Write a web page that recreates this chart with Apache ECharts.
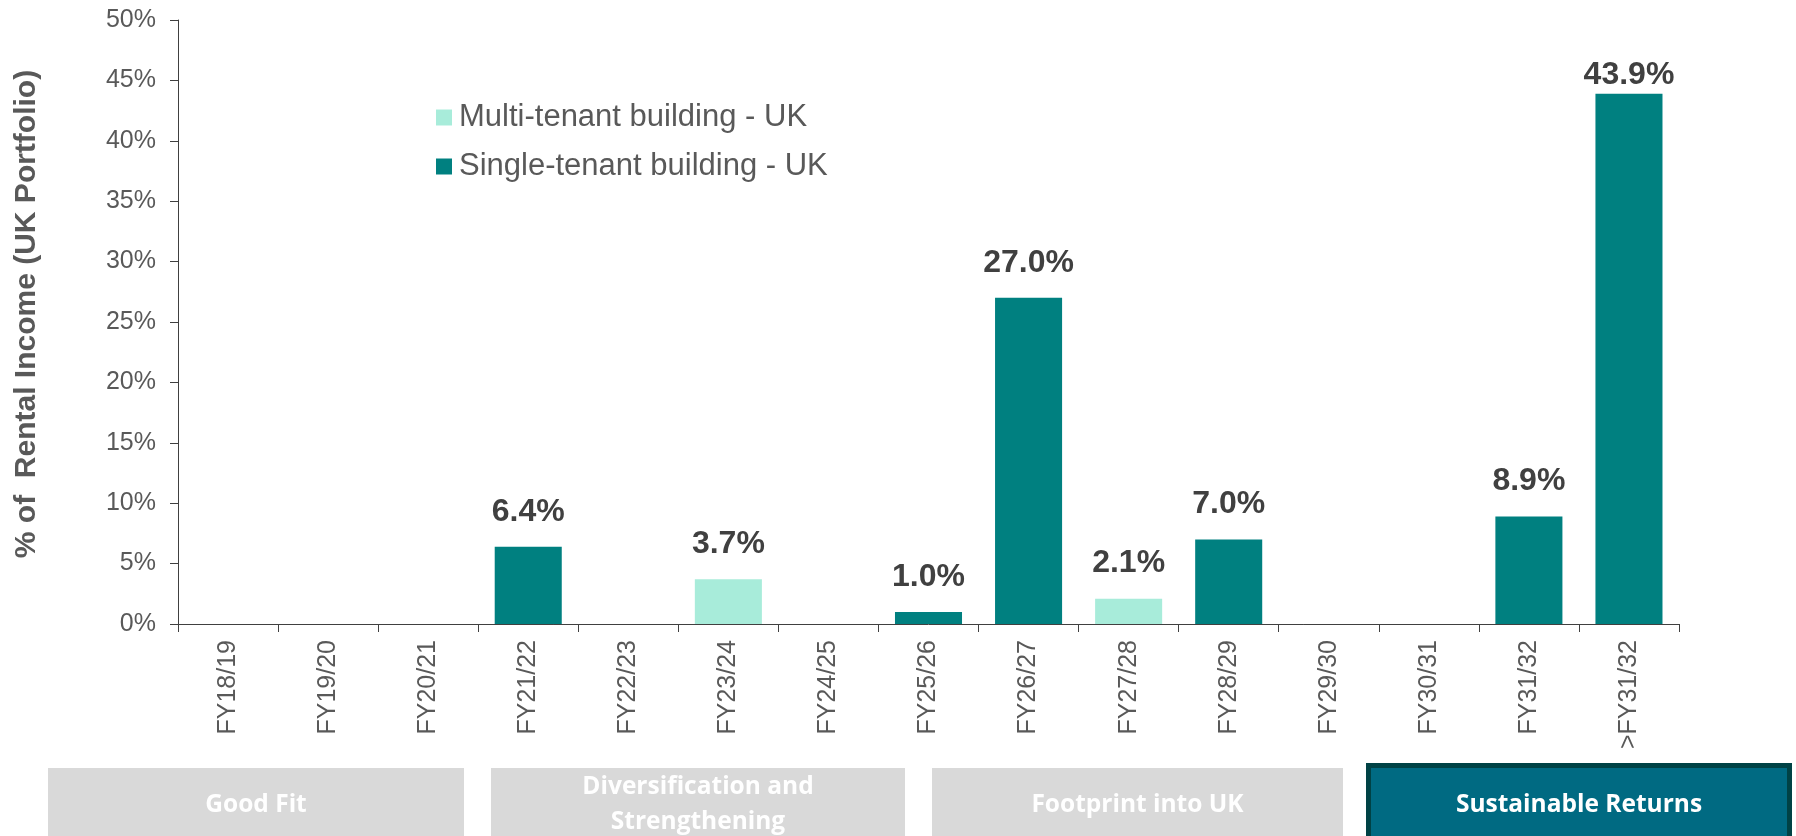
<!DOCTYPE html>
<html>
<head>
<meta charset="utf-8">
<script src="https://cdn.jsdelivr.net/npm/echarts@6/dist/echarts.min.js"></script>
<style>
  html, body { margin: 0; padding: 0; background: #fff; }
  #chart { width: 1796px; height: 836px; }
</style>
</head>
<body>
<div id="chart"></div>
<script>
const categories = ['FY18/19', 'FY19/20', 'FY20/21', 'FY21/22', 'FY22/23', 'FY23/24', 'FY24/25',
  'FY25/26', 'FY26/27', 'FY27/28', 'FY28/29', 'FY29/30', 'FY30/31', 'FY31/32', '>FY31/32'];
const multiTenant = [null, null, null, null, null, 3.7, null, null, null, 2.1, null, null, null, null, null];
const singleTenant = [null, null, null, 6.4, null, null, null, 1.0, 27.0, null, 7.0, null, null, 8.9, 43.9];
const yTicks = { min: 0, max: 50, interval: 5 };
const phases = ['Good Fit', 'Diversification and\nStrengthening', 'Footprint into UK', 'Sustainable Returns'];

const FONT = '"Liberation Sans", Arial, sans-serif';
const GREY = '#595959';
const BOX_FONT = 'bold 24.5px "Open Sans", sans-serif';

const labelOpt = {
  show: true,
  position: 'top',
  distance: 19,
  fontFamily: FONT,
  fontSize: 32,
  fontWeight: 'bold',
  color: '#404040',
  formatter: p => p.value.toFixed(1) + '%'
};

// the tallest bar's label sits close to the bar in the original
const lastIdx = categories.length - 1;
const singleData = singleTenant.map((v, i) => i === lastIdx ? { value: v, label: { distance: 3 } } : v);

// phase boxes under the axis
const boxes = [
  { x: 48, w: 416 },
  { x: 491, w: 414 },
  { x: 932, w: 411 }
];
const graphic = boxes.map((b, i) => ({
  type: 'group',
  children: [
    { type: 'rect', shape: { x: b.x, y: 768, width: b.w, height: 72 }, style: { fill: '#d9d9d9' } },
    {
      type: 'text', x: b.x + b.w / 2, y: 805,
      style: {
        text: phases[i], fill: '#fff', font: BOX_FONT,
        align: 'center', verticalAlign: 'middle', lineHeight: 35
      }
    }
  ]
}));
graphic.push({
  type: 'group',
  children: [
    { type: 'rect', shape: { x: 1368.5, y: 765.5, width: 421, height: 80 }, style: { fill: '#006a82', stroke: '#004245', lineWidth: 5 } },
    {
      type: 'text', x: 1579, y: 805,
      style: {
        text: phases[3], fill: '#fff', font: BOX_FONT,
        align: 'center', verticalAlign: 'middle'
      }
    }
  ]
});

const option = {
  animation: false,
  backgroundColor: '#fff',
  grid: { left: 178, right: 117, top: 20, bottom: 212, outerBoundsMode: 'none' },
  legend: {
    orient: 'vertical',
    left: 431,
    top: 94,
    icon: 'rect',
    itemWidth: 16,
    itemHeight: 16,
    itemGap: 12,
    textStyle: { fontFamily: FONT, fontSize: 31, color: GREY, lineHeight: 37, padding: [0, 0, 0, 2] },
    data: ['Multi-tenant building - UK', 'Single-tenant building - UK']
  },
  xAxis: {
    type: 'category',
    data: categories,
    axisLine: { lineStyle: { color: '#404040', width: 1 } },
    axisTick: { show: true, length: 8, lineStyle: { color: '#404040' } },
    axisLabel: { rotate: 90, margin: 16, fontFamily: FONT, fontSize: 25, color: GREY, interval: 0 }
  },
  yAxis: {
    type: 'value',
    min: yTicks.min,
    max: yTicks.max,
    interval: yTicks.interval,
    name: '% of  Rental Income (UK Portfolio)',
    nameLocation: 'middle',
    nameGap: 136,
    nameTextStyle: { fontFamily: FONT, fontSize: 30, fontWeight: 'bold', color: GREY, padding: [0, 0, 0, 16] },
    splitLine: { show: false },
    axisLine: { show: true, lineStyle: { color: '#404040', width: 1 } },
    axisTick: { show: true, length: 8, lineStyle: { color: '#404040' } },
    axisLabel: { margin: 22, fontFamily: FONT, fontSize: 25, color: GREY, formatter: '{value}%' }
  },
  series: [
    {
      name: 'Multi-tenant building - UK',
      type: 'bar',
      stack: 'total',
      barWidth: '67%',
      data: multiTenant,
      itemStyle: { color: '#a8ecda' },
      label: labelOpt
    },
    {
      name: 'Single-tenant building - UK',
      type: 'bar',
      stack: 'total',
      barWidth: '67%',
      data: singleData,
      itemStyle: { color: '#008080' },
      label: labelOpt
    }
  ],
  graphic: graphic
};

const chart = echarts.init(document.getElementById('chart'));
chart.setOption(option);
</script>
</body>
</html>
